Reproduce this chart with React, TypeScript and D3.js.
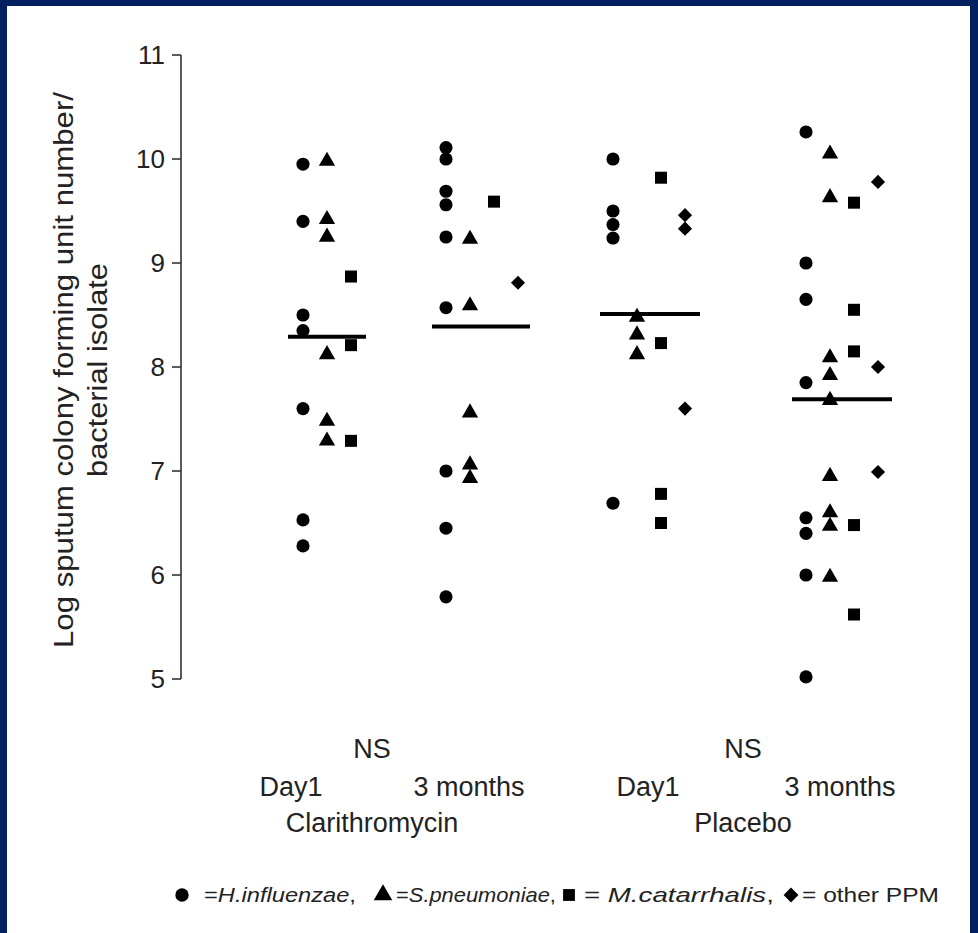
import React from "react";
import * as d3 from "d3";

const W = 978;
const H = 933;

// Group/column categories
const groups = ["Clarithromycin", "Placebo"];
const timepoints = ["Day1", "3 months"];
const species = ["H.influenzae", "S.pneumoniae", "M.catarrhalis", "other PPM"];
const yTicks = [5, 6, 7, 8, 9, 10, 11];

// Values per panel (Clarithromycin Day1, Clarithromycin 3 months, Placebo Day1, Placebo 3 months)
const hInfluenzae = [
  [9.95, 9.4, 8.5, 8.35, 7.6, 6.53, 6.28],
  [10.11, 10.0, 9.69, 9.56, 9.25, 8.57, 7.0, 6.45, 5.79],
  [10.0, 9.5, 9.37, 9.24, 6.69],
  [10.26, 9.0, 8.65, 7.85, 6.55, 6.4, 6.0, 5.02],
];
const sPneumoniae = [
  [9.98, 9.42, 9.25, 8.12, 7.48, 7.29],
  [9.23, 8.59, 7.56, 7.06, 6.93],
  [8.48, 8.31, 8.12],
  [10.05, 9.63, 8.09, 7.92, 7.68, 6.95, 6.6, 6.47, 5.98],
];
const mCatarrhalis = [
  [8.87, 8.21, 7.29],
  [9.59],
  [9.82, 8.23, 6.78, 6.5],
  [9.58, 8.55, 8.15, 6.48, 5.62],
];
const otherPPM = [
  [],
  [8.81],
  [9.46, 9.33, 7.6],
  [9.78, 8.0, 6.99],
];
const medians = [8.29, 8.39, 8.51, 7.69];

const seriesList = [hInfluenzae, sPneumoniae, mCatarrhalis, otherPPM];

export default function App() {
  const y = d3.scaleLinear().domain([5, 11]).range([679, 55]);
  // panel centres (triangle column) following the original spacing
  const centres = [327, 470, 637, 830];
  const speciesOffset = d3.scaleLinear().domain([0, 3]).range([-24, 48]);
  const medianHalf = [39, 49, 50, 50];
  const medianCentre = [327, 481, 650, 842];

  const symbols = [d3.symbolCircle, d3.symbolTriangle, d3.symbolSquare, d3.symbolSquare];
  const sizes = [135, 115, 144, 100];
  const rot = [0, 0, 0, 45];
  const shape = (i: number) => d3.symbol().type(symbols[i]).size(sizes[i])() as string;

  const font = "'Liberation Sans', Arial, Helvetica, sans-serif";
  const axisX = 181;

  const groupCentres = [372, 743];
  const tpX = [[291, 469], [648, 840]];

  const legendItems = [
    { sx: 182, tx: 204, len: 152, pre: "=", name: species[0], post: "," },
    { sx: 383, tx: 396, len: 160, pre: "=", name: species[1], post: "," },
    { sx: 569, tx: 584, len: 190, pre: "= ", name: species[2], post: "," },
    { sx: 791, tx: 802, len: 137, pre: "= ", name: "", post: species[3] },
  ];

  const textRefs = React.useRef<(SVGTextElement | null)[]>([]);
  const [scales, setScales] = React.useState<number[]>([1, 1, 1, 1]);
  React.useLayoutEffect(() => {
    const s = legendItems.map((it, i) => {
      const el = textRefs.current[i];
      if (!el) return 1;
      const w = el.getComputedTextLength();
      return w > 0 ? it.len / w : 1;
    });
    setScales(s);
  }, []);

  return (
    <svg
      width={W}
      height={H}
      style={{ position: "absolute", left: 0, top: 0 }}
      fontFamily={font}
    >
      <rect x={0} y={0} width={W} height={H} fill="#002060" />
      <rect x={7} y={6} width={W - 15} height={H - 6} fill="#ffffff" />

      {/* y axis */}
      <line x1={axisX} x2={axisX} y1={y(11)} y2={y(5)} stroke="#333" strokeWidth={1.6} />
      {yTicks.map((t) => (
        <g key={t}>
          <line x1={axisX - 9} x2={axisX} y1={y(t)} y2={y(t)} stroke="#333" strokeWidth={1.6} />
          <text
            x={165}
            y={y(t)}
            dy="0.36em"
            textAnchor="end"
            fontSize={26}
            fill="#222"
          >
            {t}
          </text>
        </g>
      ))}

      {/* y label */}
      <g transform="translate(73,370) rotate(-90)">
        <text x={0} y={0} textAnchor="middle" fontSize={27} fill="#222" textLength={556} lengthAdjust="spacingAndGlyphs">
          Log sputum colony forming unit number/
        </text>
        <text x={0} y={34} textAnchor="middle" fontSize={27} fill="#222" textLength={214} lengthAdjust="spacingAndGlyphs">
          bacterial isolate
        </text>
      </g>

      {/* points */}
      {seriesList.map((series, si) =>
        series.map((vals, pi) =>
          vals.map((v, k) => (
            <path
              key={`${si}-${pi}-${k}`}
              d={shape(si)}
              transform={`translate(${centres[pi] + speciesOffset(si)},${y(v)}) rotate(${rot[si]})`}
              fill="#000"
            />
          ))
        )
      )}

      {/* medians */}
      {medians.map((m, i) => (
        <line
          key={i}
          x1={medianCentre[i] - medianHalf[i]}
          x2={medianCentre[i] + medianHalf[i]}
          y1={y(m)}
          y2={y(m)}
          stroke="#000"
          strokeWidth={4}
        />
      ))}

      {/* category labels */}
      {groups.map((g, gi) => (
        <g key={g}>
          <text x={groupCentres[gi]} y={758} textAnchor="middle" fontSize={27} fill="#222">
            NS
          </text>
          {timepoints.map((tp, ti) => (
            <text key={tp} x={tpX[gi][ti]} y={796} textAnchor="middle" fontSize={27} fill="#222">
              {tp}
            </text>
          ))}
          <text x={groupCentres[gi]} y={832} textAnchor="middle" fontSize={27} fill="#222">
            {g}
          </text>
        </g>
      ))}

      {/* legend */}
      {legendItems.map((it, i) => (
        <g key={i}>
          <path
            d={d3.symbol().type(symbols[i]).size(i === 3 ? 110 : i === 1 ? 150 : 140)() as string}
            transform={`translate(${it.sx},${895}) rotate(${rot[i]})`}
            fill="#000"
          />
          <g transform={`translate(${it.tx},902) scale(${scales[i]},1)`}>
            <text
              ref={(el) => {
                textRefs.current[i] = el;
              }}
              x={0}
              y={0}
              fontSize={20}
              fill="#222"
            >
              <tspan>{it.pre}</tspan>
              {it.name && <tspan fontStyle="italic">{it.name}</tspan>}
              <tspan>{it.post}</tspan>
            </text>
          </g>
        </g>
      ))}
    </svg>
  );
}
